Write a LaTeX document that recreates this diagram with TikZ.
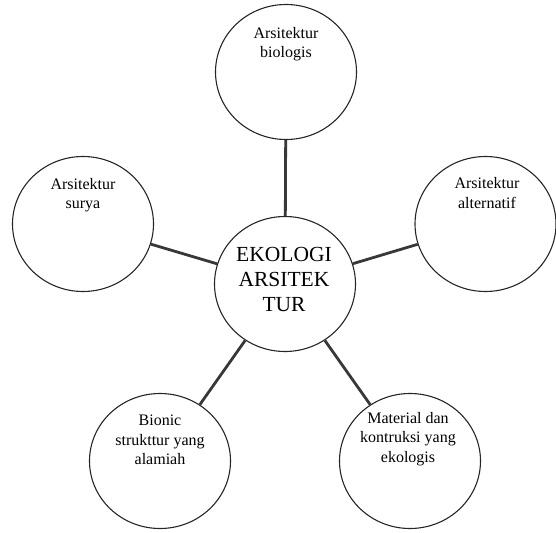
\documentclass[tikz,border=0pt]{standalone}
\usepackage{fontspec}
\setmainfont{Liberation Serif}
\usetikzlibrary{shapes.geometric}
\begin{document}
\begin{tikzpicture}[x=1pt,y=-1pt,
  bubble/.style={draw=black!85, line width=1.1pt, ellipse, minimum width=141pt, minimum height=135pt, inner sep=0pt},
  conn/.style={draw=black!78, line width=2.8pt},
  outertext/.style={align=center, text=black, font=\fontsize{16}{19.5}\selectfont},
  centertext/.style={align=center, text=black, font=\fontsize{21.5}{25}\selectfont}]
\useasboundingbox (0,0) rectangle (556,532);
\node[bubble] (c) at (285,284) {};
\node[bubble] (t) at (286,72) {};
\node[bubble] (l) at (83,224) {};
\node[bubble] (r) at (485.5,224) {};
\node[bubble] (bl) at (160,461) {};
\node[bubble] (br) at (410,461) {};
\draw[conn] (c) -- (t);
\draw[conn] (c) -- (l);
\draw[conn] (c) -- (r);
\draw[conn] (c) -- (bl);
\draw[conn] (c) -- (br);
\node[centertext] (ct) at (284,279) {EKOLOGI\\ARSITEK\\TUR};
\node[outertext] (tt) at (286,44) {Arsitektur\\biologis};
\node[outertext] (lt) at (83,195) {Arsitektur\\surya};
\node[outertext] (rt) at (487,193) {Arsitektur\\alternatif};
\node[outertext] (blt) at (160,440) {Bionic\\strukttur yang\\alamiah};
\node[outertext] (brt) at (408,439) {Material dan\\kontruksi yang\\ekologis};
\end{tikzpicture}
\end{document}
